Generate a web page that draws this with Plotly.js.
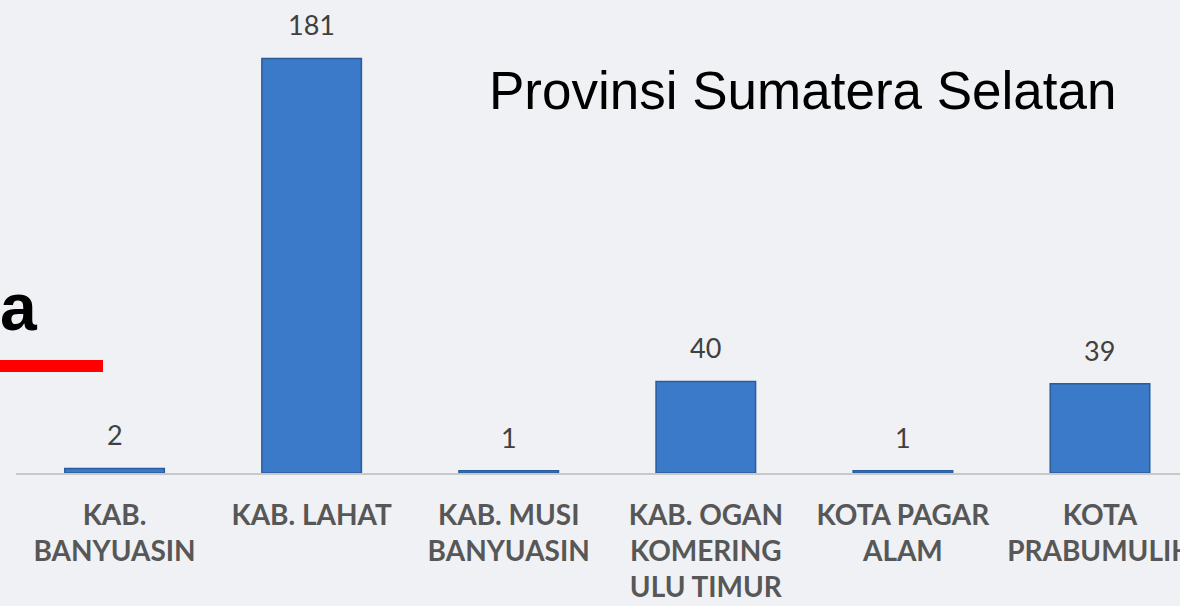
<!DOCTYPE html>
<html>
<head>
<meta charset="utf-8">
<script src="https://cdn.plot.ly/plotly-3.0.1.min.js"></script>
<style>
  html, body { margin: 0; padding: 0; background: #eff1f4; overflow: hidden; }
  #chart { width: 1180px; height: 606px; }
</style>
</head>
<body>
<div id="chart"></div>
<script>
// Data
const categories = [
  'KAB.<br>BANYUASIN',
  'KAB. LAHAT',
  'KAB. MUSI<br>BANYUASIN',
  'KAB. OGAN<br>KOMERING<br>ULU TIMUR',
  'KOTA PAGAR<br>ALAM',
  'KOTA<br>PRABUMULIH'
];
const values = [2, 181, 1, 40, 1, 39];
const chartTitle = 'Provinsi Sumatera Selatan';

const W = 1180, H = 606;
const mL = 16, mB = 133, mT = 0;
const plotW = W - mL;
const plotH = H - mB - mT;
const px2paperX = px => (px - mL) / plotW;
const px2paperY = py => (H - mB - py) / plotH;

const trace = {
  type: 'bar',
  x: categories,
  y: values,
  marker: {
    color: '#3b79c9',
    line: { color: '#2a5c9c', width: 1.5 }
  },
  hoverinfo: 'skip'
};

const labelAnnotations = categories.map((c, i) => ({
  x: c, y: values[i], xref: 'x', yref: 'y',
  text: String(values[i]),
  showarrow: false, yanchor: 'bottom', xanchor: 'center',
  yshift: 15,
  font: { family: 'Lato, sans-serif', size: 27, color: '#404040' }
}));

const layout = {
  width: W, height: H,
  margin: { l: mL, r: 0, t: mT, b: mB, pad: 0 },
  paper_bgcolor: '#eff1f4',
  plot_bgcolor: 'rgba(0,0,0,0)',
  showlegend: false,
  bargap: 0.495,
  title: {
    text: chartTitle,
    font: { family: 'Liberation Sans, Arial, sans-serif', size: 53, color: '#000000' },
    x: 489 / W, xanchor: 'left', xref: 'container',
    y: 1 - 90 / H, yanchor: 'middle', yref: 'container'
  },
  xaxis: {
    type: 'category',
    range: [-0.5, 5.406],
    showgrid: false,
    zeroline: false,
    showline: true,
    linecolor: '#c8c8c8',
    linewidth: 2,
    ticks: '',
    ticklabelstandoff: 16,
    tickfont: { family: 'Lato, sans-serif', size: 28, color: '#575757', weight: 'bold' },
    fixedrange: true
  },
  yaxis: {
    range: [0, 206.5],
    visible: false,
    showgrid: false,
    zeroline: false,
    fixedrange: true
  },
  shapes: [
    {
      type: 'line', xref: 'paper', yref: 'paper',
      x0: px2paperX(0), x1: px2paperX(103),
      y0: px2paperY(366), y1: px2paperY(366),
      line: { color: '#ff0000', width: 12 }
    }
  ],
  annotations: labelAnnotations.concat([
    {
      xref: 'paper', yref: 'paper',
      x: px2paperX(40), y: px2paperY(346),
      xanchor: 'right', yanchor: 'bottom',
      text: 'a', showarrow: false,
      font: { family: 'Liberation Sans, Arial, sans-serif', size: 66, color: '#000000', weight: 'bold' }
    }
  ])
};

Plotly.newPlot('chart', [trace], layout, { staticPlot: true, displayModeBar: false });
</script>
</body>
</html>
